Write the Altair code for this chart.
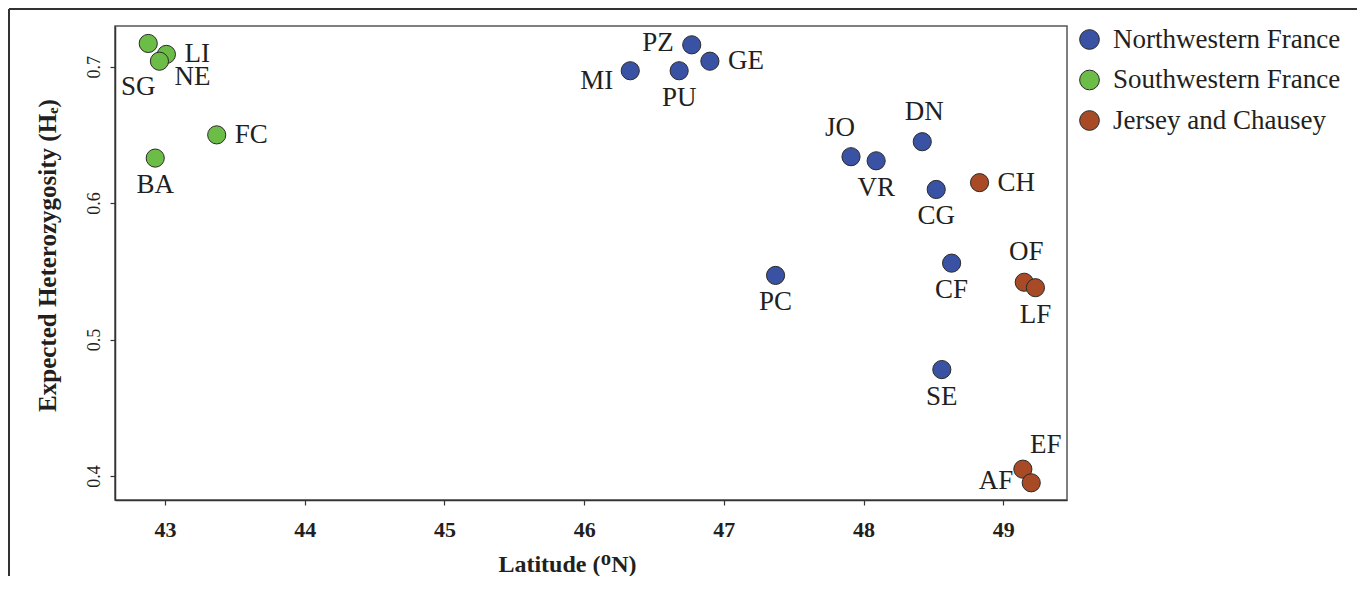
import altair as alt
import pandas as pd

# ---- data ----
sites = ["SG", "LI", "NE", "FC", "BA",
         "MI", "PZ", "PU", "GE", "JO", "VR", "DN", "CG", "PC", "CF", "SE",
         "CH", "OF", "LF", "EF", "AF"]
latitude = [42.88, 43.01, 42.96, 43.37, 42.93,
            46.33, 46.77, 46.68, 46.90, 47.91, 48.09, 48.42, 48.52, 47.37, 48.63, 48.56,
            48.83, 49.15, 49.23, 49.14, 49.20]
heterozygosity = [0.717, 0.709, 0.704, 0.650, 0.633,
                  0.697, 0.716, 0.697, 0.704, 0.634, 0.631, 0.645, 0.610, 0.547, 0.556, 0.478,
                  0.615, 0.542, 0.538, 0.405, 0.395]
region = (["Southwestern France"] * 5 + ["Northwestern France"] * 11 +
          ["Jersey and Chausey"] * 5)
label_side = ["far-below", "right", "lower-right", "right", "below",
              "lower-left", "left", "below", "right", "upper-left", "below", "above",
              "below", "below", "below", "below",
              "right", "above", "below", "upper-right", "left"]

region_order = ["Northwestern France", "Southwestern France", "Jersey and Chausey"]
region_colors = ["#3a52a3", "#6cbd47", "#a84a26"]
x_ticks = [43, 44, 45, 46, 47, 48, 49]
y_ticks = [0.4, 0.5, 0.6, 0.7]

df = pd.DataFrame({
    "site": sites,
    "lat": latitude,
    "he": heterozygosity,
    "region": region,
    "side": label_side,
})

SERIF = "Liberation Serif"
INK = "#231f20"

x_enc = alt.X(
    "lat:Q",
    scale=alt.Scale(domain=[42.642, 49.456], nice=False, zero=False),
    axis=alt.Axis(
        values=x_ticks, title="Latitude (ᴼN)", grid=False,
        labelFont=SERIF, labelFontSize=22, labelFontWeight="bold", labelColor=INK,
        labelPadding=14, tickSize=5, tickColor="#333", tickWidth=1.2,
        domainColor="#333", domainWidth=1.5,
        titleFont=SERIF, titleFontSize=24, titleFontWeight="bold", titleColor=INK,
        titleX=452, titleY=71, titleBaseline="alphabetic", titleAlign="center",
    ),
)
y_enc = alt.Y(
    "he:Q",
    scale=alt.Scale(domain=[0.3824, 0.7298], nice=False, zero=False),
    axis=alt.Axis(
        values=y_ticks, format=".1f", title="Expected Heterozygosity (Hₑ)", grid=False,
        labelFont=SERIF, labelFontSize=18, labelColor=INK, labelAngle=270,
        labelPadding=7, tickSize=5, tickColor="#333", tickWidth=1.2,
        domainColor="#333", domainWidth=1.5,
        titleFont=SERIF, titleFontSize=25, titleFontWeight="bold", titleColor=INK,
        titleAngle=270, titleX=-60, titleY=229, titleBaseline="alphabetic",
        titleAlign="center",
    ),
)

points = alt.Chart(df).mark_point(
    filled=True, opacity=1, size=330, stroke="#2a2a2a", strokeWidth=1, shape="circle"
).encode(
    x=x_enc,
    y=y_enc,
    color=alt.Color(
        "region:N",
        scale=alt.Scale(domain=region_order, range=region_colors),
        legend=alt.Legend(
            title=None, orient="none", legendX=961, legendY=0, padding=0,
            symbolType="circle", symbolSize=390, symbolStrokeColor="#2a2a2a",
            symbolStrokeWidth=1, labelFont=SERIF, labelFontSize=27, labelColor=INK,
            labelOffset=10, rowPadding=12.5, labelLimit=400,
        ),
    ),
)

side_styles = {
    "right": dict(align="left", dx=18, dy=0),
    "left": dict(align="right", dx=-18, dy=-2),
    "above": dict(align="center", dx=2, dy=-30),
    "below": dict(align="center", dx=0, dy=27),
    "lower-right": dict(align="left", dx=15, dy=16),
    "lower-left": dict(align="right", dx=-17, dy=10),
    "upper-right": dict(align="center", dx=23, dy=-24),
    "upper-left": dict(align="center", dx=-11, dy=-29),
    "far-below": dict(align="center", dx=-10, dy=44),
}

label_layers = []
for side, st in side_styles.items():
    label_layers.append(
        alt.Chart(df).transform_filter(alt.datum.side == side).mark_text(
            baseline="middle", font=SERIF, fontSize=27, color=INK, **st
        ).encode(x=x_enc, y=y_enc, text="site:N")
    )

frame_v = alt.Chart(df).mark_rule(color="#333", strokeWidth=1.5).encode(
    x=alt.value(-106), y=alt.value(-17), y2=alt.value(600)
)
frame_h = alt.Chart(df).mark_rule(color="#333", strokeWidth=1.5).encode(
    x=alt.value(-106), x2=alt.value(1300), y=alt.value(-17)
)

chart = alt.layer(frame_v, frame_h, points, *label_layers).properties(
    width=952, height=474,
    padding={"left": 107, "top": 18, "right": 290, "bottom": 76},
    autosize=alt.AutoSizeParams(type="none"),
).configure_view(stroke="#555", strokeWidth=1.5)

chart.save("out.html", embed_options={"renderer": "svg", "actions": False})
